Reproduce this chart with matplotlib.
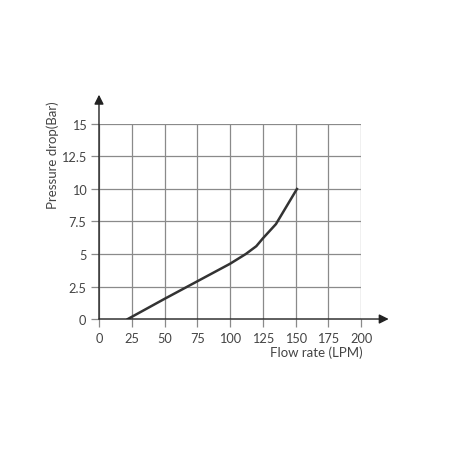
import matplotlib
matplotlib.use('Agg')
import matplotlib.pyplot as plt

# data
flow = [22, 50, 75, 100, 112, 120, 125, 135, 151]
pressure = [0, 1.55, 2.9, 4.25, 5.0, 5.6, 6.2, 7.3, 10]
x_ticks = [0, 25, 50, 75, 100, 125, 150, 175, 200]
y_ticks = [0, 2.5, 5, 7.5, 10, 12.5, 15]
y_labels = ['0', '2.5', '5', '7.5', '10', '12.5', '15']

plt.rcParams['font.family'] = ['Lato', 'DejaVu Sans']
txt = '#444444'
grid_c = '#8a8a8a'

fig = plt.figure(figsize=(4.52, 4.52), dpi=100)
ax = fig.add_axes([0.219, 0.292, 0.58, 0.4315])

ax.plot(flow, pressure, color='#333333', linewidth=1.8, zorder=3)

ax.set_xlim(0, 200)
ax.set_ylim(0, 15)
ax.set_xticks(x_ticks)
ax.set_yticks(y_ticks)
ax.set_yticklabels(y_labels)
ax.grid(True, color=grid_c, linewidth=0.9)
ax.tick_params(length=6, width=0.9, color=grid_c, labelsize=9.2, labelcolor=txt, pad=3)
for s in ax.spines.values():
    s.set_visible(False)

# axis arrows
ax.annotate('', xy=(0, 1.15), xycoords='axes fraction', xytext=(0, 0),
            arrowprops=dict(arrowstyle='-|>', color='#222222', lw=1.0,
                            mutation_scale=14, shrinkA=0, shrinkB=0),
            annotation_clip=False)
ax.annotate('', xy=(1.105, 0), xycoords='axes fraction', xytext=(0, 0),
            arrowprops=dict(arrowstyle='-|>', color='#222222', lw=1.0,
                            mutation_scale=14, shrinkA=0, shrinkB=0),
            annotation_clip=False)

fig.text(0.803, 0.219, 'Flow rate (LPM)', ha='right', va='center', fontsize=9.5, color=txt)
fig.text(0.117, 0.657, 'Pressure drop(Bar)', ha='center', va='center', rotation=90,
         fontsize=9.5, color=txt)

plt.savefig('out.png', dpi=100)
